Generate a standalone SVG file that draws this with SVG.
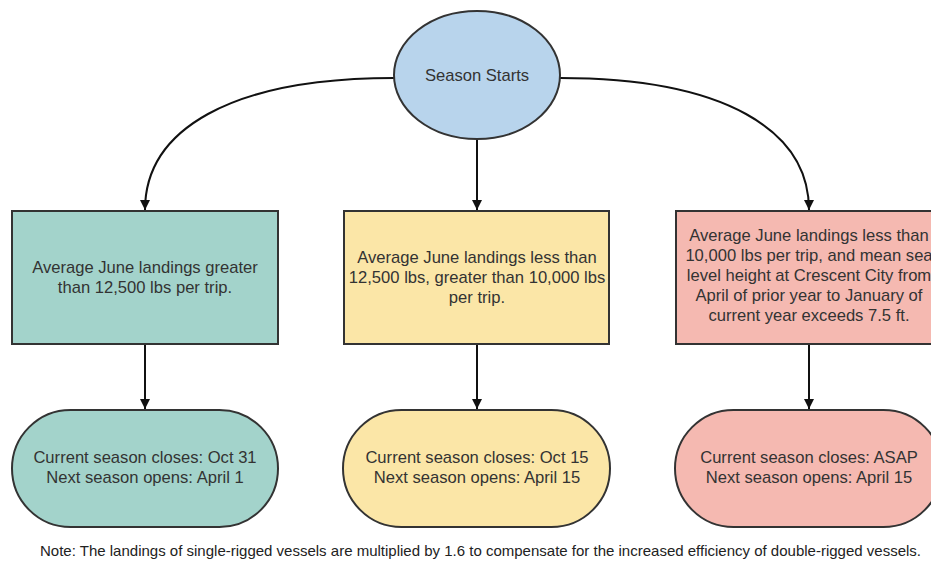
<svg xmlns="http://www.w3.org/2000/svg" width="931" height="573" viewBox="0 0 931 573">
<defs>
<marker id="arr" viewBox="0 0 10 10" refX="10" refY="5" markerWidth="10" markerHeight="12" markerUnits="userSpaceOnUse" orient="auto">
<path d="M0,0 L10,5 L0,10 z" fill="#111"/>
</marker>
<style>
.n{stroke:#333;stroke-width:2}
.t{font-family:"Liberation Sans",Arial,sans-serif;font-size:16.6px;fill:#333;text-anchor:middle}
.c{fill:none;stroke:#111;stroke-width:2;marker-end:url(#arr)}
.teal{fill:#a3d3cb}.yel{fill:#fbe6a7}.pink{fill:#f5b9b1}.blue{fill:#b8d4ec}
</style>
</defs>
<rect width="931" height="573" fill="#fff"/>
<g id="connectors">
<path class="c" d="M394,78 C230,78 145,130 145,210"/>
<path class="c" d="M560,78 C724,78 809,130 809,210"/>
<path class="c" d="M477,140 L477,210"/>
<path class="c" d="M145,344 L145,409"/>
<path class="c" d="M477,344 L477,409"/>
<path class="c" d="M809,344 L809,409"/>
</g>
<g id="start">
<ellipse class="n blue" cx="477" cy="75" rx="83" ry="64"/>
<text class="t" x="477" y="81">Season Starts</text>
</g>
<g id="cond1">
<rect class="n teal" x="12" y="211" width="266" height="133"/>
<text class="t" x="145" y="273">Average June landings greater</text>
<text class="t" x="145" y="293">than 12,500 lbs per trip.</text>
</g>
<g id="cond2">
<rect class="n yel" x="344" y="211" width="265" height="133"/>
<text class="t" x="477" y="263">Average June landings less than</text>
<text class="t" x="477" y="283">12,500 lbs, greater than 10,000 lbs</text>
<text class="t" x="477" y="303">per trip.</text>
</g>
<g id="cond3">
<rect class="n pink" x="676" y="211" width="266" height="133"/>
<text class="t" x="809" y="241">Average June landings less than</text>
<text class="t" x="809" y="261">10,000 lbs per trip, and mean sea</text>
<text class="t" x="809" y="281">level height at Crescent City from</text>
<text class="t" x="809" y="301">April of prior year to January of</text>
<text class="t" x="809" y="321">current year exceeds 7.5 ft.</text>
</g>
<g id="result1">
<rect class="n teal" x="12" y="410" width="266" height="117" rx="58.5" ry="58.5"/>
<text class="t" x="145" y="463">Current season closes: Oct 31</text>
<text class="t" x="145" y="483">Next season opens: April 1</text>
</g>
<g id="result2">
<rect class="n yel" x="343" y="410" width="267" height="117" rx="58.5" ry="58.5"/>
<text class="t" x="477" y="463">Current season closes: Oct 15</text>
<text class="t" x="477" y="483">Next season opens: April 15</text>
</g>
<g id="result3">
<rect class="n pink" x="675" y="410" width="267" height="117" rx="58.5" ry="58.5"/>
<text class="t" x="809" y="463">Current season closes: ASAP</text>
<text class="t" x="809" y="483">Next season opens: April 15</text>
</g>
<text id="note" x="40" y="556" font-family="'Liberation Sans',Arial,sans-serif" font-size="14.5" fill="#222" textLength="881" lengthAdjust="spacingAndGlyphs">Note: The landings of single-rigged vessels are multiplied by 1.6 to compensate for the increased efficiency of double-rigged vessels.</text>
</svg>
